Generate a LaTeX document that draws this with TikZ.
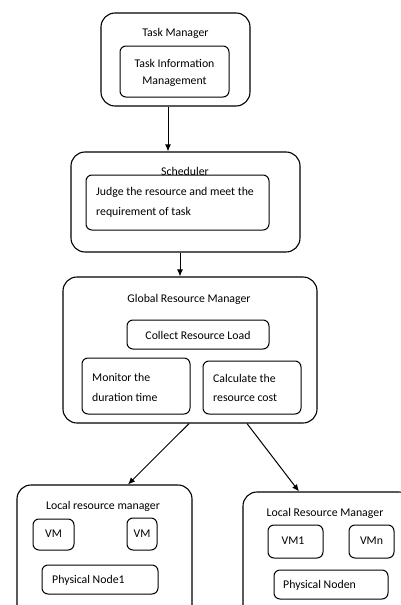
\documentclass[tikz,border=0pt]{standalone}
\usepackage{fontspec}
\setmainfont{Carlito}
\usetikzlibrary{arrows.meta}
\begin{document}
\begin{tikzpicture}[x=1pt,y=-1pt,
  outerbox/.style={draw, line width=1.1pt, rounded corners=14pt, inner sep=0pt},
  innerbox/.style={draw, line width=1pt, rounded corners=6pt, inner sep=0pt},
  lbl/.style={font=\fontsize{11.8pt}{14pt}\selectfont, inner sep=0pt},
  lbll/.style={lbl, anchor=west},
  arr/.style={line width=1pt, -{Latex[length=7pt,width=6pt]}}]
\useasboundingbox (0,0) rectangle (401,605);
\clip (0,0) rectangle (401,605);
% Task manager
\node[outerbox, minimum width=149pt, minimum height=93pt] (tm) at (175.5,59.5) {};
\node[lbl] (tmt) at (175.5,33) {Task Manager};
\node[innerbox, minimum width=109pt, minimum height=51pt] (tim) at (174.5,71.5) {};
\node[lbl] (timt1) at (174.5,63) {Task Information};
\node[lbl] (timt2) at (174.5,82) {Management};
% Scheduler
\node[outerbox, minimum width=229pt, minimum height=100pt] (sch) at (185.5,202) {};
\node[lbl] (scht) at (185,171) {Scheduler};
\node[innerbox, minimum width=183pt, minimum height=55pt] (jud) at (177.5,202.5) {};
\node[lbll] (judt1) at (96,192) {Judge the resource and meet the};
\node[lbll] (judt2) at (96,212) {requirement of task};
% Global resource manager
\node[outerbox, minimum width=254pt, minimum height=146pt] (grm) at (190,350) {};
\node[lbl] (grmt) at (189,299) {Global Resource Manager};
\node[innerbox, minimum width=142pt, minimum height=29pt] (col) at (198,334.5) {};
\node[lbl] (colt) at (198,335) {Collect Resource Load};
\node[innerbox, minimum width=108pt, minimum height=56pt] (mon) at (136,386) {};
\node[lbll] (mont1) at (92,377) {Monitor the};
\node[lbll] (mont2) at (92,397) {duration time};
\node[innerbox, minimum width=98pt, minimum height=53pt] (cal) at (252,387.5) {};
\node[lbll] (calt1) at (213,378) {Calculate the};
\node[lbll] (calt2) at (213,398) {resource cost};
% Local resource manager 1
\node[outerbox, minimum width=175pt, minimum height=140pt] (lrm1) at (104.5,555) {};
\node[lbl] (lrm1t) at (103,506) {Local resource manager};
\node[innerbox, minimum width=41pt, minimum height=31pt] (vma) at (53.5,534.5) {};
\node[lbl] (vmat) at (53.5,534) {VM};
\node[innerbox, minimum width=30pt, minimum height=32pt] (vmb) at (142,534) {};
\node[lbl] (vmbt) at (142,534) {VM};
\node[innerbox, minimum width=116pt, minimum height=29pt] (pn1) at (100,579.5) {};
\node[lbll] (pn1t) at (52,580) {Physical Node1};
% Local resource manager 2
\node[outerbox, minimum width=170pt, minimum height=140pt] (lrm2) at (328,562) {};
\node[lbl] (lrm2t) at (325,513) {Local Resource Manager};
\node[innerbox, minimum width=55pt, minimum height=33pt] (vm1) at (295.5,541.5) {};
\node[lbl] (vm1t) at (293,541) {VM1};
\node[innerbox, minimum width=45pt, minimum height=33pt] (vmn) at (371.5,541.5) {};
\node[lbl] (vmnt) at (371.5,541) {VMn};
\node[innerbox, minimum width=114pt, minimum height=29pt] (pnn) at (331,584.5) {};
\node[lbll] (pnnt) at (283,585) {Physical Noden};
% connectors
\coordinate (x1) at (168,0);
\coordinate (x2) at (180,0);
\coordinate (x3) at (189,0);
\coordinate (x4) at (128,0);
\coordinate (x5) at (247,0);
\coordinate (x6) at (299,0);
\draw[arr] (tm.south -| x1) -- (sch.north -| x1);
\draw[arr] (sch.south -| x2) -- (grm.north -| x2);
\draw[arr] (grm.south -| x3) -- (lrm1.north -| x4);
\draw[arr] (grm.south -| x5) -- (lrm2.north -| x6);
\end{tikzpicture}
\end{document}
